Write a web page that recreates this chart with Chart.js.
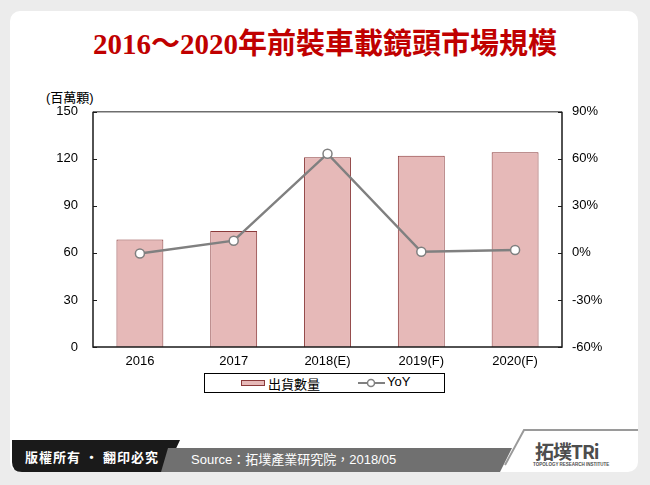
<!DOCTYPE html>
<html><head><meta charset="utf-8">
<script src="https://cdn.jsdelivr.net/npm/chart.js@4.4.0/dist/chart.umd.min.js"></script>
<style>
html,body{margin:0;padding:0;background:#ececec;width:650px;height:485px;overflow:hidden;font-family:"Liberation Sans",Arial,sans-serif;}
#panel{position:absolute;left:10px;top:11px;width:628px;height:461px;background:#fff;border-radius:10px;}
#title{position:absolute;left:0;top:20px;width:650px;text-align:center;font:bold 29px "Liberation Serif","Noto Sans CJK TC",serif;color:#c00000;letter-spacing:0px;}
#unit{position:absolute;left:46px;top:87px;font:13px "Liberation Sans","Noto Sans CJK TC",sans-serif;color:#000;}
#wrap{position:absolute;left:40px;top:89px;width:570px;height:291px;}
#legend{position:absolute;left:204px;top:373px;width:239px;height:18px;border:1px solid #000;background:#fff;font:13px "Liberation Sans","Noto Sans CJK TC",sans-serif;}
#legend span{position:absolute;top:0px;}
#foot{position:absolute;left:0;top:0;width:650px;height:485px;pointer-events:none;}
#copy{position:absolute;left:25px;top:447px;font:bold 13px "Noto Sans CJK TC",sans-serif;color:#fff;letter-spacing:1px;}
#src{position:absolute;left:191px;top:449px;font:13px "Liberation Sans","Noto Sans CJK TC",sans-serif;color:#fff;}
#logo{position:absolute;left:535px;top:437px;font:bold 19px "Noto Sans CJK TC",sans-serif;color:#4d4d4d;letter-spacing:-1px;}
#logo2{position:absolute;left:533px;top:462px;font:bold 4.5px "Liberation Sans",sans-serif;color:#4d4d4d;white-space:nowrap;}
</style></head>
<body>
<div id="panel"></div>
<svg id="foot" width="650" height="485">
  <path d="M12,440 L180,440 L165,472 L22,472 Q12,472 12,462 Z" fill="#1a1a1a"/>
  <path d="M168,448 L512,448 L500,472 L161,472 Z" fill="#707070"/>
  <path d="M505,465 L524,430 L638,430" fill="none" stroke="#9a9a9a" stroke-width="2"/>
</svg>
<div id="title">2016～2020年前裝車載鏡頭市場規模</div>
<div id="unit">(百萬顆)</div>
<div id="wrap"><canvas id="c" width="570" height="291"></canvas></div>
<div id="legend">
  <svg style="position:absolute;left:36px;top:6px" width="25" height="7"><rect x="0.5" y="0.5" width="23" height="5" fill="#e6b9b8" stroke="#8b3a3a"/></svg>
  <span style="left:63px">出貨數量</span>
  <svg style="position:absolute;left:153px;top:3px" width="28" height="12"><line x1="0" y1="6" x2="27" y2="6" stroke="#808080" stroke-width="2"/><circle cx="13" cy="6" r="3.5" fill="#fff" stroke="#808080" stroke-width="1.5"/></svg>
  <span style="left:182px">YoY</span>
</div>
<div id="copy">版權所有 · 翻印必究</div>
<div id="src">Source：拓墣產業研究院，2018/05</div>
<div id="logo">拓墣TR<span style="color:#4d4d4d">i</span></div>
<div id="logo2">TOPOLOGY RESEARCH INSTITUTE</div>
<script>
const categories = ['2016', '2017', '2018(E)', '2019(F)', '2020(F)'];
const shipments = [68.5, 73.9, 121.0, 121.9, 124.2];
const yoyPct = [-0.4, 7.8, 63.3, 0.7, 1.9];
const leftTicks = [0, 30, 60, 90, 120, 150];
const rightTicks = [-60, -30, 0, 30, 60, 90];

const framePlugin = {
  id: 'frame',
  afterDraw(chart) {
    const ctx = chart.ctx, a = chart.chartArea;
    const y = chart.scales.y, y1 = chart.scales.y1;
    ctx.save();
    ctx.lineWidth = 1.5;
    ctx.strokeStyle = '#6e6e6e';
    ctx.beginPath(); ctx.moveTo(a.left, a.top); ctx.lineTo(a.right, a.top); ctx.stroke();
    ctx.strokeStyle = '#1a1a1a';
    ctx.lineWidth = 1.5;
    ctx.beginPath();
    ctx.moveTo(a.left, a.top); ctx.lineTo(a.left, a.bottom); ctx.lineTo(a.right, a.bottom); ctx.lineTo(a.right, a.top);
    ctx.stroke();
    ctx.lineWidth = 1;
    leftTicks.forEach(v => { const p = Math.round(y.getPixelForValue(v)) + 0.5; ctx.beginPath(); ctx.moveTo(a.left, p); ctx.lineTo(a.left + 4, p); ctx.stroke(); });
    rightTicks.forEach(v => { const p = Math.round(y1.getPixelForValue(v)) + 0.5; ctx.beginPath(); ctx.moveTo(a.right - 4, p); ctx.lineTo(a.right, p); ctx.stroke(); });
    ctx.restore();
  }
};

new Chart(document.getElementById('c'), {
  data: {
    labels: categories,
    datasets: [
      { type: 'line', label: 'YoY', data: yoyPct, yAxisID: 'y1', borderColor: '#808080', borderWidth: 2.5,
        pointBackgroundColor: '#fff', pointBorderColor: '#808080', pointBorderWidth: 1.5, pointRadius: 4.5, tension: 0, order: 0 },
      { type: 'bar', label: '出貨數量', data: shipments, yAxisID: 'y', backgroundColor: '#e6b9b8', borderColor: '#8b3a3a',
        borderWidth: 1, categoryPercentage: 1, barPercentage: 0.5, order: 1 }
    ]
  },
  options: {
    responsive: false, animation: false,
    layout: { padding: { top: 0, left: 0, right: 0, bottom: 0 } },
    plugins: { legend: { display: false }, tooltip: { enabled: false } },
    scales: {
      x: { offset: true, grid: { display: false, drawTicks: false }, border: { display: false },
        ticks: { color: '#000', font: { family: 'Liberation Sans', size: 13 }, padding: 7, maxRotation: 0 },
        afterFit: s => { s.height = 33; } },
      y: { position: 'left', min: 0, max: 150, grid: { display: false, drawTicks: false }, border: { display: false },
        afterBuildTicks: s => { s.ticks = leftTicks.map(v => ({ value: v })); },
        ticks: { color: '#000', font: { family: 'Liberation Sans', size: 13 }, padding: 15 },
        afterFit: s => { s.width = 53; } },
      y1: { position: 'right', min: -60, max: 90, grid: { display: false, drawTicks: false }, border: { display: false },
        afterBuildTicks: s => { s.ticks = rightTicks.map(v => ({ value: v })); },
        ticks: { color: '#000', font: { family: 'Liberation Sans', size: 13 }, padding: 10, callback: v => v + '%' },
        afterFit: s => { s.width = 48; } }
    }
  },
  plugins: [framePlugin]
});
</script>
</body></html>
